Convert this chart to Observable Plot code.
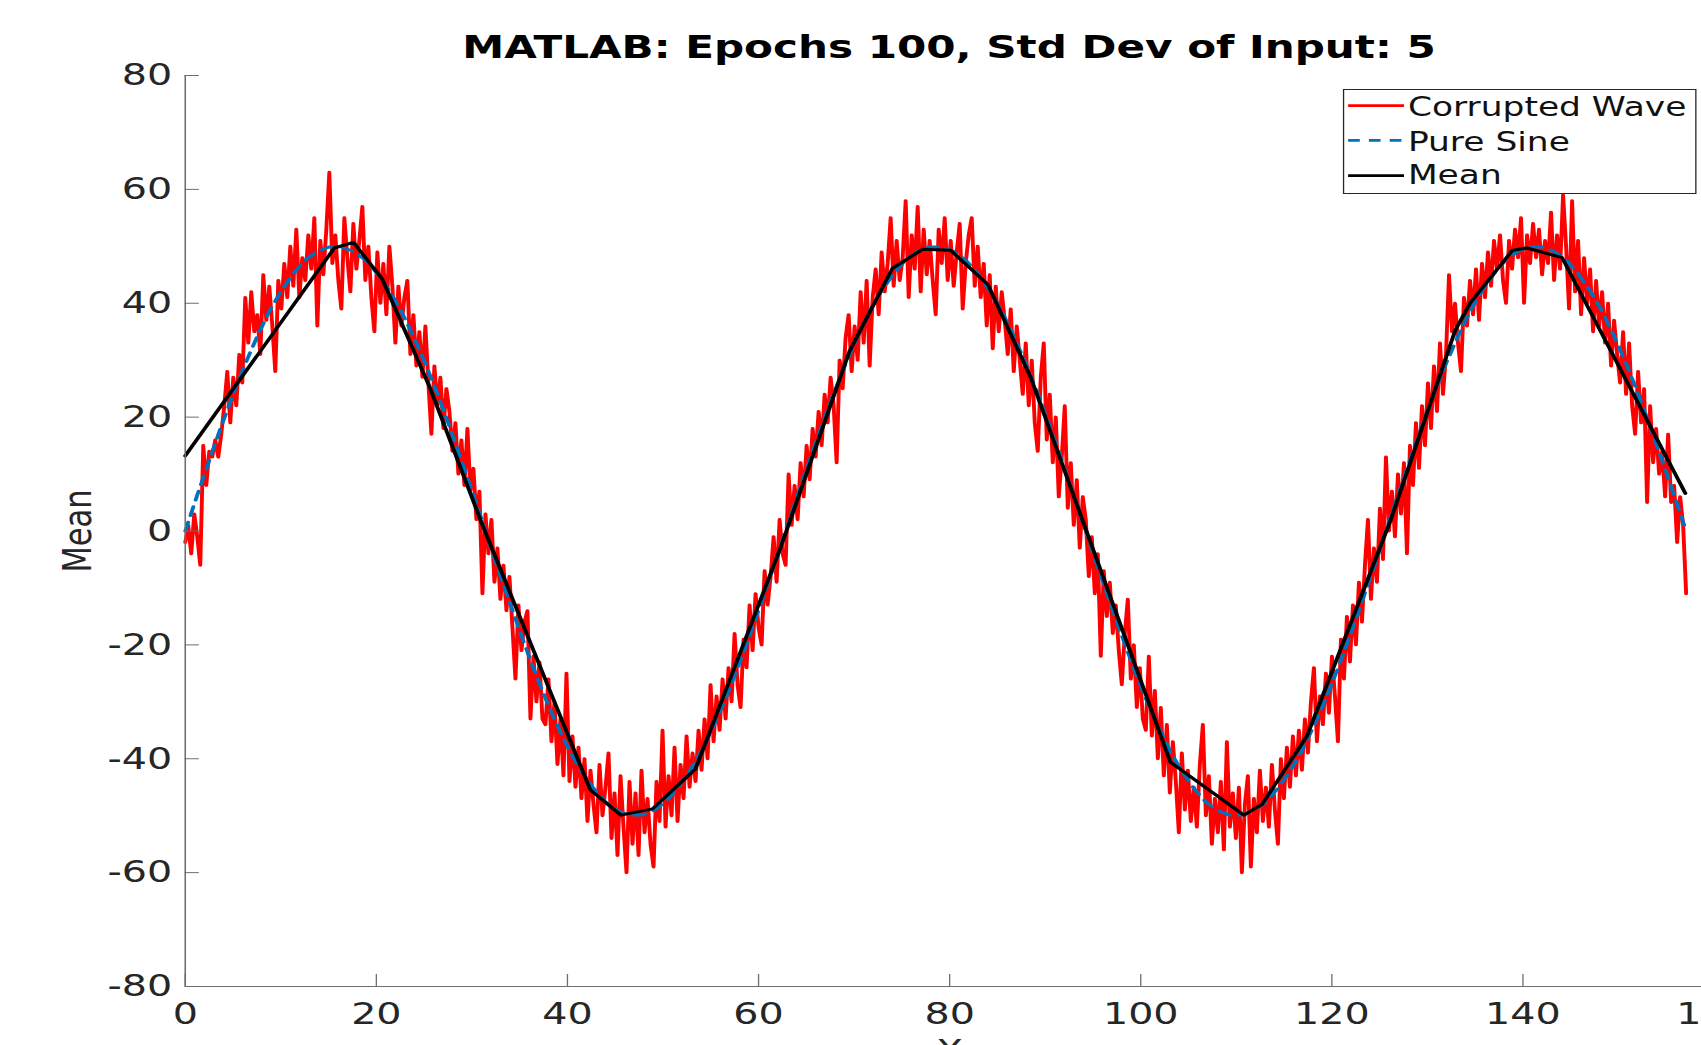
<!DOCTYPE html>
<html><head><meta charset="utf-8">
<script src="https://cdn.jsdelivr.net/npm/d3@7"></script>
<script src="https://cdn.jsdelivr.net/npm/@observablehq/plot@0.6"></script>
<style>
html,body{margin:0;padding:0;overflow:hidden;background:#fff;}
#wrap{position:relative;width:1320px;height:1045px;transform:scaleX(1.3);transform-origin:0 0;font-family:"DejaVu Sans",sans-serif;}
#title{position:absolute;top:31px;left:730px;transform:translateX(-50%);white-space:nowrap;font-weight:bold;font-size:32.4px;line-height:32px;color:#000;}
#chart{position:absolute;left:0;top:40px;width:1320px;height:1005px;}
#chart svg{max-width:none;overflow:hidden;}
#legend{position:absolute;left:1033px;top:89px;width:272px;height:105px;box-sizing:border-box;border:1px solid #262626;background:#fff;}
</style></head>
<body>
<div id="wrap">
  <div id="title">MATLAB: Epochs 100, Std Dev of Input: 5</div>
  <div id="chart"></div>
  <div id="legend"></div>
</div>
<script>
// ---- data ----
const xTicks = [0, 20, 40, 60, 80, 100, 120, 140, 160];
const yTicks = [-80, -60, -40, -20, 0, 20, 40, 60, 80];

const seriesNames = ["Corrupted Wave", "Pure Sine", "Mean"];
const seriesColors = ["#ff0000", "#0072bd", "#000000"];

// Corrupted wave: samples spaced 0.3141593 apart from x = 0 to x = 157.08
const corruptedStep = 0.3141593;
const corruptedY = [
-2,1,-4,3,-1,-6,15,8,14,13,
16,13,17,22,28,19,27,22,31,26,
41,33,42,35,38,31,45,37,43,36,
28,44,39,47,41,50,43,53,41,48,
44,52,46,55,36,51,45,53,63,47,
52,44,39,55,48,42,54,46,51,57,
44,50,41,35,49,40,47,38,50,43,
33,43,36,41,44,31,38,29,35,27,
36,26,17,29,22,27,18,25,21,14,
19,10,16,8,18,7,11,2,7,-11,
3,-4,2,-9,-3,-12,-6,-14,-8,-17,
-26,-13,-21,-16,-14,-33,-22,-30,-23,-33,
-34,-26,-37,-30,-41,-33,-43,-25,-44,-36,
-45,-38,-47,-40,-51,-42,-48,-53,-41,-50,
-45,-39,-54,-46,-57,-43,-52,-60,-44,-55,
-46,-57,-42,-53,-47,-55,-59,-44,-51,-35,
-52,-43,-50,-38,-51,-41,-47,-36,-45,-39,
-44,-35,-42,-33,-40,-27,-37,-29,-35,-26,
-33,-24,-30,-18,-27,-31,-19,-24,-13,-21,
-11,-17,-20,-7,-13,-8,-1,-9,2,-4,
-6,10,1,8,2,12,6,15,9,18,
13,21,15,24,19,27,22,12,30,25,
34,38,28,36,30,42,33,44,29,41,
46,38,49,42,47,55,43,51,44,48,
58,41,52,46,57,42,53,45,51,44,
38,53,47,55,44,51,43,49,54,39,
47,52,55,43,50,41,47,36,45,32,
43,35,42,37,31,39,28,36,30,24,
33,22,30,19,14,27,33,16,24,12,
20,6,13,22,4,12,1,9,-3,6,
2,-8,-1,-11,-4,-22,-7,-15,-9,-18,
-13,-21,-27,-18,-12,-26,-20,-31,-24,-33,
-35,-22,-36,-28,-40,-31,-43,-34,-46,-37,
-44,-53,-39,-49,-42,-51,-45,-52,-41,-34,
-50,-43,-55,-47,-53,-44,-56,-37,-52,-46,
-54,-45,-60,-48,-43,-59,-47,-53,-42,-51,
-45,-52,-41,-49,-55,-40,-47,-38,-45,-36,
-43,-35,-42,-33,-39,-30,-24,-37,-29,-34,
-25,-32,-22,-29,-37,-19,-26,-15,-23,-13,
-20,-9,-16,-6,2,-12,-3,-9,4,-5,
13,0,7,-1,10,3,12,-4,15,8,
19,11,22,15,26,18,29,21,33,24,
31,45,35,40,33,28,41,36,44,38,
46,37,47,41,49,43,51,46,52,44,
40,51,46,53,48,55,40,52,47,54,
48,53,45,51,47,56,44,52,46,59,
50,39,58,42,51,38,48,40,46,35,
44,36,42,33,40,29,37,31,26,35,
24,33,22,17,28,19,25,5,22,12,
18,10,14,6,17,5,8,-2,6,1,-11
];

// Pure sine: samples spaced 1.2566371 apart from x = 0 to x = 157.08
const pureStep = 1.2566371;
const pureY = [
0,6.3,12.4,18.4,24.1,29.4,34.2,38.6,42.2,45.2,47.6,49.1,49.9,49.9,49.1,47.6,45.2,42.2,38.6,34.2,29.4,24.1,18.4,12.4,6.3,
0,-6.3,-12.4,-18.4,-24.1,-29.4,-34.2,-38.6,-42.2,-45.2,-47.6,-49.1,-49.9,-49.9,-49.1,-47.6,-45.2,-42.2,-38.6,-34.2,-29.4,-24.1,-18.4,-12.4,-6.3,
0,6.3,12.4,18.4,24.1,29.4,34.2,38.6,42.2,45.2,47.6,49.1,49.9,49.9,49.1,47.6,45.2,42.2,38.6,34.2,29.4,24.1,18.4,12.4,6.3,
0,-6.3,-12.4,-18.4,-24.1,-29.4,-34.2,-38.6,-42.2,-45.2,-47.6,-49.1,-49.9,-49.9,-49.1,-47.6,-45.2,-42.2,-38.6,-34.2,-29.4,-24.1,-18.4,-12.4,-6.3,
0,6.3,12.4,18.4,24.1,29.4,34.2,38.6,42.2,45.2,47.6,49.1,49.9,49.9,49.1,47.6,45.2,42.2,38.6,34.2,29.4,24.1,18.4,12.4,6.3,
0
];

// Mean: vertices of the piecewise line
const meanX = [0,15.6,17.6,20.6,25.6,31.0,42.4,45.6,48.9,53.4,62.4,69.5,74.0,77.2,80.1,84.0,88.5,103.1,110.8,112.7,117.4,126.2,132.9,134.5,138.9,140.4,144.1,157.0];
const meanY = [13.2,49.7,50.7,44.3,25.2,1.5,-45.5,-49.9,-48.8,-41.8,-2.5,31.5,46.1,49.5,49.3,43.3,26.9,-40.6,-49.9,-48.0,-36.0,2.1,35.2,40.1,49.3,49.7,48.0,6.6];

// ---- build ----
const corrupted = corruptedY.map((y, i) => ({x: i * corruptedStep, y}));
const pure = pureY.map((y, i) => ({x: i * pureStep, y}));
const mean = meanX.map((x, i) => ({x, y: meanY[i]}));

const axisColor = "#6e6e6e";
const textColor = "#262626";
const fmt = d => String(d);
const fs = 30.5;

const chart = Plot.plot({
  width: 1320,
  height: 1005,
  marginLeft: 142,
  marginRight: 2,
  marginTop: 35,
  marginBottom: 59,
  x: {domain: [0, 160]},
  y: {domain: [-80, 80]},
  style: {fontFamily: '"DejaVu Sans", sans-serif', background: "transparent", color: textColor},
  marks: [
    Plot.line(corrupted, {x: "x", y: "y", stroke: seriesColors[0], strokeWidth: 3}),
    Plot.line(pure, {x: "x", y: "y", stroke: seriesColors[1], strokeWidth: 3, strokeDasharray: "9,7"}),
    Plot.line(mean, {x: "x", y: "y", stroke: seriesColors[2], strokeWidth: 3}),
    Plot.ruleX([0], {stroke: axisColor, strokeWidth: 1.2}),
    Plot.ruleY([-80], {stroke: axisColor, strokeWidth: 1.2}),
    Plot.axisX({ticks: xTicks, tickSize: -12, tickFormat: () => "", color: axisColor, label: null}),
    Plot.axisX({ticks: xTicks, tickSize: 0, tickPadding: 16, tickFormat: fmt, fontSize: fs, color: textColor, label: null}),
    Plot.axisY({ticks: yTicks, tickSize: -11, tickFormat: () => "", color: axisColor, label: null}),
    Plot.axisY({ticks: yTicks, tickSize: 0, tickPadding: 10, tickFormat: fmt, fontSize: fs, color: textColor, label: null}),
    Plot.text(["Mean"], {text: d => d, frameAnchor: "left", textAnchor: "middle", rotate: -90, dx: -82, fontSize: fs, fill: textColor}),
    Plot.text(["X"], {text: d => d, frameAnchor: "bottom", textAnchor: "middle", lineAnchor: "top", dy: 53, fontSize: fs, fill: textColor})
  ]
});
document.getElementById("chart").appendChild(chart);

// ---- legend ----
const lg = d3.select("#legend").append("svg").attr("width", 270).attr("height", 103).style("display", "block");
const rowLineY = [15.7, 50.3, 85.7];
const rowTextY = [25.7, 60.7, 94.5];
const dashes = [null, "9,7", null];
seriesNames.forEach((name, i) => {
  lg.append("line").attr("x1", 3).attr("x2", 46).attr("y1", rowLineY[i]).attr("y2", rowLineY[i])
    .attr("stroke", seriesColors[i]).attr("stroke-width", 2.8).attr("stroke-dasharray", dashes[i]);
  lg.append("text").attr("x", 49).attr("y", rowTextY[i]).attr("font-size", 26.5)
    .attr("font-family", '"DejaVu Sans", sans-serif').attr("fill", "#111").text(name);
});
</script>
</body></html>
